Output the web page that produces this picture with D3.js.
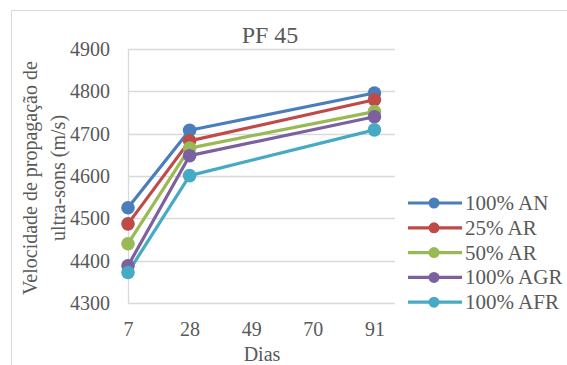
<!DOCTYPE html>
<html><head><meta charset="utf-8">
<script src="https://cdn.jsdelivr.net/npm/d3@7"></script>
<style>body{margin:0;background:#fff}svg{display:block}svg text{font-family:"Liberation Serif","Times New Roman",Tinos,serif !important;fill:#595959}</style>
</head><body><svg id="c" width="567" height="365"></svg>
<script>
const days = [7, 28, 91];
const seriesNames = ["100% AN", "25% AR", "50% AR", "100% AGR", "100% AFR"];
const colors = ["#4a7ebb", "#be4b48", "#98b954", "#7d60a0", "#46aac5"];
const vAN = [4525, 4708, 4796];
const vAR25 = [4487, 4683, 4780];
const vAR50 = [4440, 4666, 4752];
const vAGR = [4388, 4648, 4740];
const vAFR = [4372, 4601, 4709];
const xTicks = [7, 28, 49, 70, 91];
const yTicks = [4300, 4400, 4500, 4600, 4700, 4800, 4900];
const seriesVals = [vAN, vAR25, vAR50, vAGR, vAFR];

const svg = d3.select("#c");
svg.append("rect").attr("x",11.5).attr("y",10.5).attr("width",600).attr("height",400)
  .attr("fill","none").attr("stroke","#d9d9d9").attr("stroke-width",1);

const x = d3.scaleLinear().domain([7, 98]).range([128, 395]);
const y = d3.scaleLinear().domain([4300, 4900]).range([303, 49]);

svg.append("g").selectAll("line").data(yTicks).join("line")
  .attr("x1",128).attr("x2",395).attr("y1",d=>Math.round(y(d))+0.5).attr("y2",d=>Math.round(y(d))+0.5)
  .attr("stroke","#d9d9d9").attr("stroke-width",1.3);
svg.append("line").attr("x1",128.5).attr("x2",128.5).attr("y1",y(4900)).attr("y2",y(4300)+0.5)
  .attr("stroke","#d9d9d9").attr("stroke-width",1.3);

const yAxis = d3.axisLeft(y).tickValues(yTicks).tickSize(0).tickPadding(18).tickFormat(d3.format("d"));
const gy = svg.append("g").attr("transform","translate(128,0)").call(yAxis);
gy.select(".domain").remove();
gy.attr("font-family",null).attr("font-size",null);
gy.selectAll("text").attr("font-size",20).attr("fill","#595959");

const xAxis = d3.axisBottom(x).tickValues(xTicks).tickSize(0).tickPadding(19).tickFormat(d3.format("d"));
const gx = svg.append("g").attr("transform","translate(0,"+y(4300)+")").call(xAxis);
gx.select(".domain").remove();
gx.attr("font-family",null).attr("font-size",null);
gx.selectAll("text").attr("font-size",20).attr("fill","#595959");

const line = d3.line().x((d,i)=>x(days[i])).y(d=>y(d));
seriesVals.forEach((vals,si)=>{
  svg.append("path").datum(vals).attr("d",line).attr("fill","none")
    .attr("stroke",colors[si]).attr("stroke-width",3.2).attr("stroke-linejoin","round");
});
seriesVals.forEach((vals,si)=>{
  svg.append("g").selectAll("circle").data(vals).join("circle")
    .attr("cx",(d,i)=>x(days[i])).attr("cy",d=>y(d)).attr("r",6.8).attr("fill",colors[si]);
});

svg.append("text").attr("x",270).attr("y",43).attr("text-anchor","middle").attr("font-size",24).text("PF 45");
svg.append("text").attr("x",262).attr("y",361).attr("text-anchor","middle").attr("font-size",20).text("Dias");
const yl = svg.append("text").attr("transform","translate(0,178) rotate(-90)").attr("text-anchor","middle").attr("font-size",20);
yl.append("tspan").attr("x",0).attr("y",37).text("Velocidade de propagação de");
yl.append("tspan").attr("x",0).attr("y",65).text("ultra-sons (m/s)");

const lg = svg.append("g");
seriesNames.forEach((n,i)=>{
  const yy = 203 + i*24.8;
  lg.append("line").attr("x1",408).attr("x2",462).attr("y1",yy).attr("y2",yy).attr("stroke",colors[i]).attr("stroke-width",3.2);
  lg.append("circle").attr("cx",434).attr("cy",yy).attr("r",5.5).attr("fill",colors[i]);
  lg.append("text").attr("x",465).attr("y",yy+7).attr("font-size",21).text(n);
});
</script></body></html>
